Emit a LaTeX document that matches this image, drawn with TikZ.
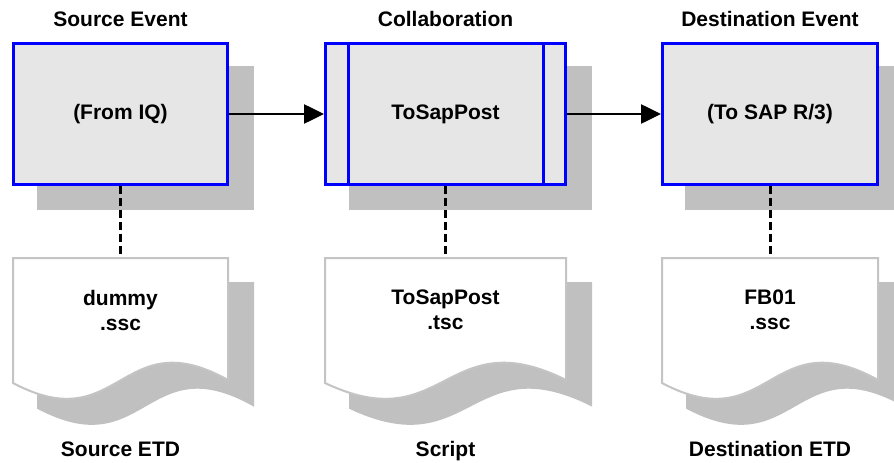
\documentclass[tikz,border=0pt]{standalone}
\usepackage{fontspec}
\setmainfont{Liberation Sans}
\usetikzlibrary{arrows.meta}
\definecolor{boxblue}{RGB}{0,0,255}
\definecolor{boxfill}{RGB}{230,230,230}
\definecolor{shadowgray}{RGB}{192,192,192}
\definecolor{docline}{RGB}{196,196,196}
\newcommand{\etdpage}[4]{%
  \path[#3] ({#1+#4},{258+#4}) -- ({#1+#2+#4},{258+#4}) -- ({#1+#2+#4},{380+#4})
    .. controls ({#1+#2/2+#4},{320+#4}) and ({#1+#2/2+#4},{440+#4}) .. ({#1+#4},{383+#4}) -- cycle;}
\begin{document}
\begin{tikzpicture}[x=1pt,y=-1pt,
  every node/.style={font=\fontsize{21}{25}\selectfont\bfseries, inner sep=0pt, text=black},
  evbox/.style={draw=boxblue, line width=3pt, fill=boxfill, minimum height=141pt, anchor=center},
  shadowfill/.style={fill=shadowgray},
  flow/.style={line width=2.6pt, -{Triangle[length=20pt,width=19pt]}},
  link/.style={line width=3pt, dash pattern=on 8pt off 4pt},
  docedge/.style={draw=docline, line width=2pt, fill=white},
  docshadow/.style={draw=shadowgray, fill=shadowgray, line width=2pt},
  heading/.style={anchor=base},
  doctext/.style={align=center, anchor=center}]
\useasboundingbox (0,0) rectangle (894,463);
\clip (0,0) rectangle (894,463);
\fill[white] (0,0) rectangle (894,463);

% box shadows
\fill[shadowfill] (37,66) rectangle (254,210);
\fill[shadowfill] (349,66) rectangle (592,210);
\fill[shadowfill] (685,66) rectangle (903,210);

% document shadows
\etdpage{13}{215}{docshadow}{25}
\etdpage{325}{241}{docshadow}{25}
\etdpage{662}{216}{docshadow}{25}

% boxes
\node[evbox, minimum width=214pt] (b1) at (120.5,114) {(From IQ)};
\node[evbox, minimum width=240pt] (b2) at (445.5,114) {ToSapPost};
\node[evbox, minimum width=215pt] (b3) at (770,114) {(To SAP R/3)};
\draw[boxblue, line width=3pt] ([xshift=24pt]b2.north west) -- ([xshift=24pt]b2.south west);
\draw[boxblue, line width=3pt] ([xshift=-24pt]b2.north east) -- ([xshift=-24pt]b2.south east);

% document tops
\coordinate (d1) at (120.5,258);
\coordinate (d2) at (445.5,258);
\coordinate (d3) at (770,258);

% dashed links
\draw[link] (b1.south) -- (d1);
\draw[link] (b2.south) -- (d2);
\draw[link] (b3.south) -- (d3);

% documents
\etdpage{13}{215}{docedge}{0}
\etdpage{325}{241}{docedge}{0}
\etdpage{662}{216}{docedge}{0}

\node[doctext] (t1) at (120.5,310) {dummy\\.ssc};
\node[doctext] (t2) at (445.5,310) {ToSapPost\\.tsc};
\node[doctext] (t3) at (770,310) {FB01\\.ssc};

% flow arrows
\draw[flow] (b1.east) -- (b2.west);
\draw[flow] (b2.east) -- (b3.west);

% headings
\node[heading] (h1) at (120.5,26) {Source Event};
\node[heading] (h2) at (445.5,26) {Collaboration};
\node[heading] (h3) at (770,26) {Destination Event};
\node[heading] (f1) at (120.5,456) {Source ETD};
\node[heading] (f2) at (445.5,456) {Script};
\node[heading] (f3) at (770,456) {Destination ETD};
\end{tikzpicture}
\end{document}
